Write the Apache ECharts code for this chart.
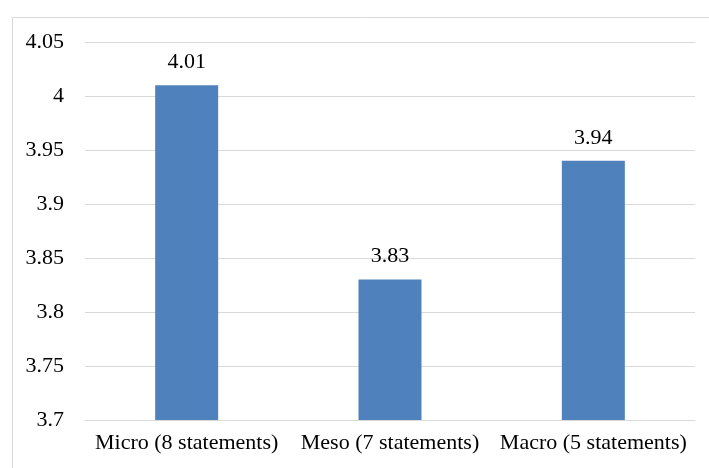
<!DOCTYPE html>
<html>
<head>
<meta charset="utf-8">
<script src="https://cdn.jsdelivr.net/npm/echarts@6/dist/echarts.min.js"></script>
<style>
html,body{margin:0;padding:0;background:#fff;}
#chart{width:709px;height:468px;}
</style>
</head>
<body>
<div id="chart"></div>
<script>
const categories = ['Micro (8 statements)', 'Meso (7 statements)', 'Macro (5 statements)'];
const values = [4.01, 3.83, 3.94];
const yMin = 3.7, yMax = 4.05, yStep = 0.05;

const FONT = 'Liberation Serif';
const chart = echarts.init(document.getElementById('chart'), null, {renderer: 'canvas'});
chart.setOption({
  backgroundColor: '#fff',
  animation: false,
  graphic: [{
    type: 'rect', left: 10, top: 15, z: -1,
    shape: {width: 720, height: 480},
    style: {fill: 'none', stroke: '#d9d9d9', lineWidth: 1}
  }],
  grid: {left: 85, right: 14, top: 42, bottom: 48, containLabel: false},
  xAxis: {
    type: 'category',
    data: categories,
    axisLine: {show: true, lineStyle: {color: '#d9d9d9', width: 1}},
    axisTick: {show: false},
    axisLabel: {color: '#000', fontFamily: FONT, fontSize: 22, margin: 12, interval: 0, hideOverlap: false}
  },
  yAxis: {
    type: 'value',
    min: yMin, max: yMax, interval: yStep,
    axisLine: {show: false},
    axisTick: {show: false},
    splitLine: {lineStyle: {color: '#d9d9d9', width: 1}},
    axisLabel: {
      color: '#000', fontFamily: FONT, fontSize: 22, margin: 21,
      formatter: v => String(+v.toFixed(2))
    }
  },
  series: [{
    type: 'bar',
    data: values,
    barWidth: 63,
    itemStyle: {color: '#4f81bd'},
    label: {
      show: true, position: 'top', distance: 12,
      color: '#000', fontFamily: FONT, fontSize: 22,
      formatter: p => String(p.value)
    }
  }]
});
</script>
</body>
</html>
